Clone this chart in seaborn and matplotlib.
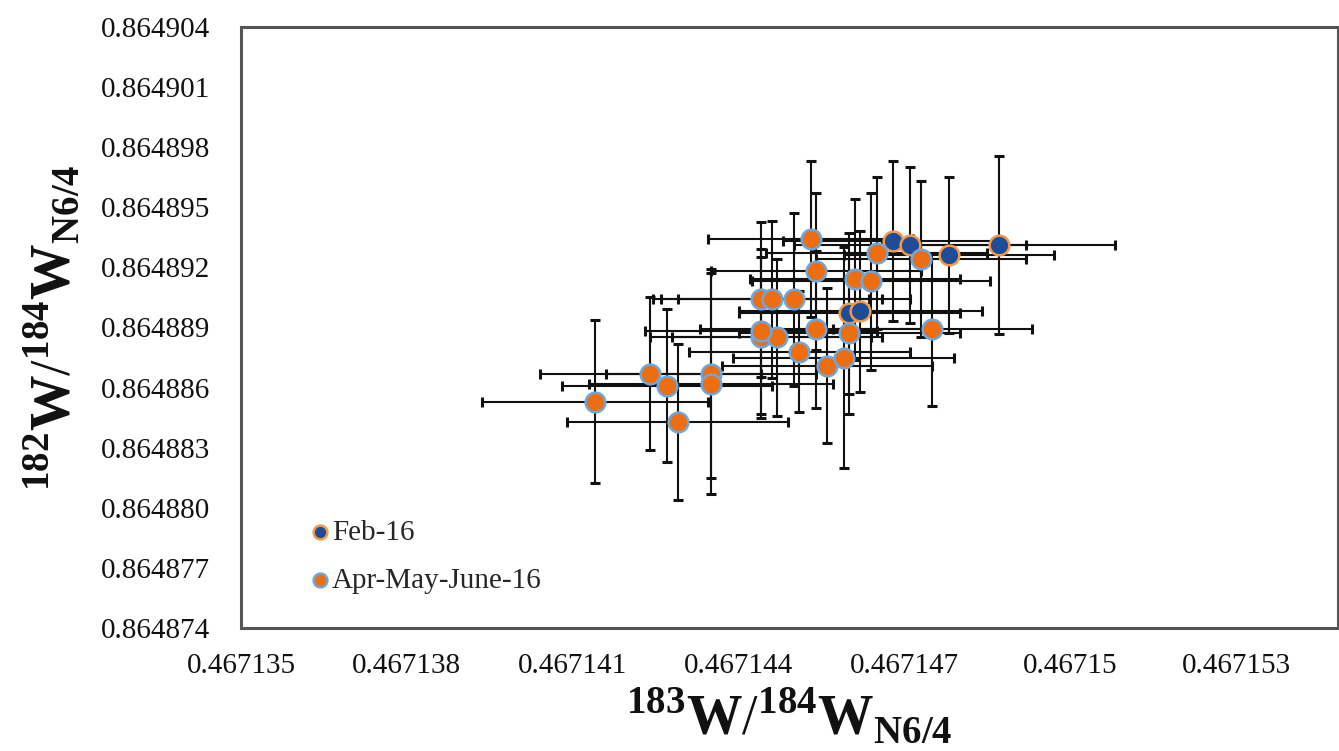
import matplotlib
matplotlib.use("Agg")
import matplotlib.pyplot as plt
import seaborn as sns
import pandas as pd

# Feb-16 session
feb_x = [0.4671460, 0.4671462, 0.4671468, 0.4671471, 0.4671478, 0.4671487]
feb_y = [0.8648897, 0.8648898, 0.8648933, 0.8648931, 0.8648926, 0.8648931]
feb_xerr = [2.0e-6, 2.2e-6, 2.0e-6, 2.1e-6, 1.9e-6, 2.1e-6]
feb_yerr = [4.0e-6, 4.0e-6, 4.0e-6, 3.9e-6, 3.9e-6, 4.45e-6]

# Apr-May-June-16 sessions
amj_x = [0.4671414, 0.4671424, 0.4671427, 0.4671429, 0.4671435, 0.4671435,
         0.4671444, 0.4671446, 0.4671450, 0.4671444, 0.4671447, 0.4671444,
         0.4671453, 0.4671454, 0.4671451, 0.4671454, 0.4671456, 0.4671459,
         0.4671460, 0.4671461, 0.4671464, 0.4671465, 0.4671473, 0.4671475]
amj_y = [0.8648853, 0.8648867, 0.8648861, 0.8648843, 0.8648867, 0.8648862,
         0.8648904, 0.8648904, 0.8648904, 0.8648885, 0.8648885, 0.8648888,
         0.8648934, 0.8648918, 0.8648878, 0.8648889, 0.8648871, 0.8648875,
         0.8648887, 0.8648914, 0.8648913, 0.8648927, 0.8648924, 0.8648889]
amj_xerr = [2.05e-6, 2.0e-6, 1.9e-6, 2.0e-6, 1.9e-6, 2.2e-6,
            1.95e-6, 2.0e-6, 2.1e-6, 2.0e-6, 1.9e-6, 2.1e-6,
            1.85e-6, 1.9e-6, 2.0e-6, 2.1e-6, 1.9e-6, 2.0e-6,
            2.0e-6, 1.9e-6, 2.15e-6, 2.0e-6, 1.9e-6, 1.8e-6]
amj_yerr = [4.05e-6, 3.8e-6, 3.8e-6, 3.9e-6, 5.2e-6, 5.5e-6,
            3.85e-6, 3.9e-6, 4.3e-6, 4.0e-6, 3.9e-6, 4.1e-6,
            3.9e-6, 3.9e-6, 3.0e-6, 3.9e-6, 3.85e-6, 5.5e-6,
            4.0e-6, 4.0e-6, 4.4e-6, 3.8e-6, 3.9e-6, 3.8e-6]

series_names = ["Feb-16", "Apr-May-June-16"]

x_ticks = [0.467135, 0.467138, 0.467141, 0.467144, 0.467147, 0.467150, 0.467153]
x_tick_labels = ["0.467135", "0.467138", "0.467141", "0.467144", "0.467147",
                 "0.46715", "0.467153"]
y_ticks = [0.864874, 0.864877, 0.864880, 0.864883, 0.864886, 0.864889,
           0.864892, 0.864895, 0.864898, 0.864901, 0.864904]
y_tick_labels = ["0.864874", "0.864877", "0.864880", "0.864883", "0.864886",
                 "0.864889", "0.864892", "0.864895", "0.864898", "0.864901",
                 "0.864904"]

sns.set_style("white")
plt.rcParams["font.family"] = ["Liberation Serif", "DejaVu Serif"]
plt.rcParams["mathtext.fontset"] = "custom"
plt.rcParams["mathtext.rm"] = "Liberation Serif"
plt.rcParams["mathtext.bf"] = "Liberation Serif:bold"

fig = plt.figure(figsize=(13.39, 7.51), dpi=100)
ax = fig.add_axes([0.180, 0.1638, 0.8193, 0.8003])

feb = pd.DataFrame({"x": feb_x, "y": feb_y, "xerr": feb_xerr, "yerr": feb_yerr})
amj = pd.DataFrame({"x": amj_x, "y": amj_y, "xerr": amj_xerr, "yerr": amj_yerr})

orange = "#EC6E10"
blue = "#1F4C96"
light_blue = "#6FA6DC"
light_orange = "#F29A4A"

for df in (feb, amj):
    ax.errorbar(df["x"], df["y"], xerr=df["xerr"], yerr=df["yerr"], fmt="none",
                ecolor="#111111", elinewidth=1.5, capsize=3.5, capthick=2.2,
                zorder=2)

sns.scatterplot(data=feb, x="x", y="y", ax=ax, color=blue, edgecolor=light_orange,
                linewidth=1.8, s=200, label=series_names[0], zorder=3)
sns.scatterplot(data=amj, x="x", y="y", ax=ax, color=orange, edgecolor=light_blue,
                linewidth=1.8, s=200, label=series_names[1], zorder=4)

ax.set_xlim(0.467135, 0.46715484)
ax.set_ylim(0.864874, 0.864904)
ax.set_xticks(x_ticks, x_tick_labels)
ax.set_yticks(y_ticks, y_tick_labels)
ax.tick_params(axis="both", direction="in", length=6, width=1.3, colors="#444444",
               labelcolor="#111111", labelsize=21)
ax.tick_params(axis="x", pad=18)
ax.tick_params(axis="y", pad=22)

for side in ["left", "bottom", "top", "right"]:
    ax.spines[side].set_visible(True)
    ax.spines[side].set_color("#555555")
    ax.spines[side].set_linewidth(2.2)

ax.set_xlabel(r"$^{\mathbf{183}}\mathbf{W}/^{\mathbf{184}}\mathbf{W}_{\mathbf{N6/4}}$",
              fontsize=40, labelpad=5, color="#111111")
ax.set_ylabel(r"$^{\mathbf{182}}\mathbf{W}/^{\mathbf{184}}\mathbf{W}_{\mathbf{N6/4}}$",
              fontsize=40, labelpad=14, color="#111111")

leg = ax.legend(loc="lower left", bbox_to_anchor=(0.051, 0.037), frameon=False,
                fontsize=21, markerscale=0.7, handlelength=0.8, handletextpad=0.0,
                labelspacing=0.75, borderaxespad=0)

fig.savefig("out.png", dpi=100)
